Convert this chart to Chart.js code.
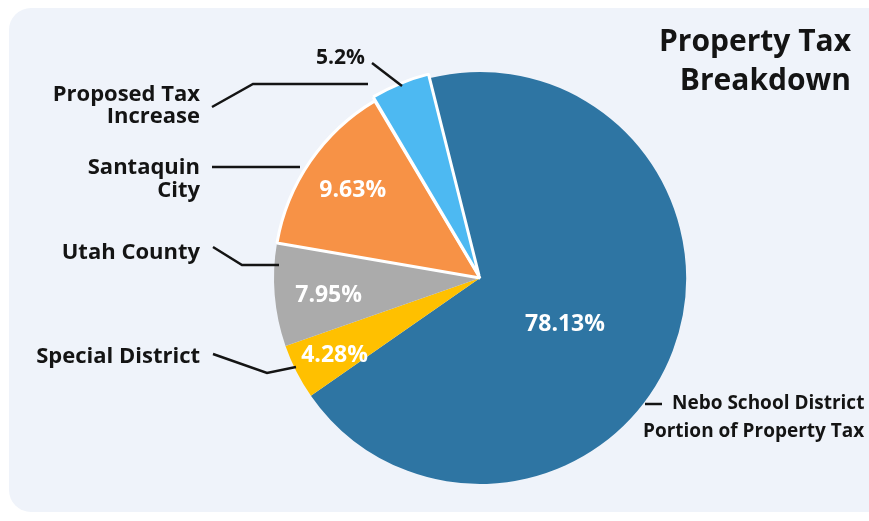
<!DOCTYPE html>
<html>
<head>
<meta charset="utf-8">
<script src="https://cdn.jsdelivr.net/npm/chart.js@4"></script>
<style>
    html, body { margin: 0; padding: 0; background: #ffffff; }
    #wrap { position: relative; width: 869px; height: 521px; overflow: hidden; }
    #card { position: absolute; left: 9px; top: 8px; width: 880px; height: 504px; background: #eff3fa; border-radius: 22px; }
    #taxPie { position: absolute; left: 0; top: 0; }
</style>
</head>
<body>
<div id="wrap">
    <div id="card"></div>
    <canvas id="taxPie" width="869" height="521"></canvas>
</div>
<script>
// slices, clockwise from the top
const categories = ['Nebo School District Portion of Property Tax', 'Special District', 'Utah County', 'Santaquin City', 'Proposed Tax Increase'];
// printed percentages
const printedShares = ['78.13%', '4.28%', '7.95%', '9.63%', '5.2%'];
// slice sizes as drawn in the picture (% of the circle)
const drawnShares = [69.2, 4.33, 8.06, 13.75, 4.64];
const sliceColors = ['#2e75a3', '#ffc000', '#ababab', '#f79246', '#4db9f2'];

const FONT = '"Open Sans", "DejaVu Sans", sans-serif';

// labels written inside the slices: radius as fraction of pie radius, angle tweak in degrees
const innerLabelPos = [
    { r: 0.47, da: 8 },
    { r: 0.80, da: -1 },
    { r: 0.74, da: -2 },
    { r: 0.75, da: 0 },
    null
];

const labelPlugin = {
    id: 'labelPlugin',
    afterDraw(chart) {
        const ctx = chart.ctx;
        const arcs = chart.getDatasetMeta(0).data;
        ctx.save();

        // values inside slices
        ctx.fillStyle = '#ffffff';
        ctx.font = 'bold 23px ' + FONT;
        ctx.textAlign = 'center';
        ctx.textBaseline = 'middle';
        arcs.forEach((arc, i) => {
            const p = innerLabelPos[i];
            if (!p) return;
            const mid = (arc.startAngle + arc.endAngle) / 2 + p.da * Math.PI / 180;
            const r = arc.outerRadius * p.r;
            ctx.fillText(printedShares[i], arc.x + Math.cos(mid) * r, arc.y + Math.sin(mid) * r);
        });

        // title
        ctx.fillStyle = '#141414';
        ctx.textAlign = 'right';
        ctx.font = 'bold 30px ' + FONT;
        ctx.fillText('Property Tax', 851, 42);
        ctx.fillText('Breakdown', 851, 81);

        // outer labels
        ctx.font = 'bold 21px ' + FONT;
        ctx.fillText(printedShares[4], 365, 58);
        ctx.font = 'bold 22px ' + FONT;
        ctx.fillText('Proposed Tax', 200, 95);
        ctx.fillText('Increase', 200, 117);
        ctx.fillText('Santaquin', 200, 168);
        ctx.fillText('City', 200, 191);
        ctx.fillText('Utah County', 200, 253);
        ctx.fillText('Special District', 200, 357);
        ctx.textAlign = 'left';
        ctx.font = 'bold 19px ' + FONT;
        ctx.fillText('Nebo School District', 672, 404);
        ctx.fillText('Portion of Property Tax', 643, 432);

        // leader lines
        ctx.strokeStyle = '#141414';
        ctx.lineWidth = 2.5;
        const leaders = [
            [[372, 63], [402, 86]],
            [[212, 107], [253, 84], [368, 84]],
            [[212, 167], [300, 167]],
            [[213, 247], [242, 265], [279, 265]],
            [[213, 354], [267, 373], [296, 367]],
            [[645, 404], [662, 404]]
        ];
        leaders.forEach(pts => {
            ctx.beginPath();
            ctx.moveTo(pts[0][0], pts[0][1]);
            for (let k = 1; k < pts.length; k++) ctx.lineTo(pts[k][0], pts[k][1]);
            ctx.stroke();
        });
        ctx.restore();
    }
};

const ctxPie = document.getElementById('taxPie').getContext('2d');
const taxPie = new Chart(ctxPie, {
    type: 'pie',
    data: {
        labels: categories,
        datasets: [{
            data: drawnShares,
            backgroundColor: sliceColors,
            borderColor: '#ffffff',
            borderWidth: [0, 0, 0, 3, 3],
            offset: [0, 0, 0, 0, 10]
        }]
    },
    options: {
        responsive: false,
        animation: false,
        rotation: -14,
        radius: 206,
        layout: {
            padding: { left: 91, right: 0, top: 35, bottom: 0 }
        },
        plugins: {
            legend: { display: false },
            tooltip: { enabled: false }
        }
    },
    plugins: [labelPlugin]
});
</script>
</body>
</html>
